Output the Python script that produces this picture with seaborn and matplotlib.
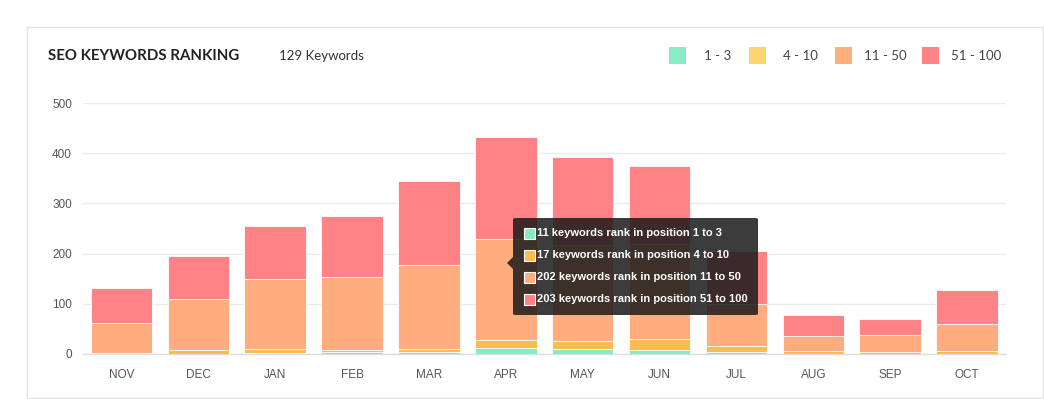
import matplotlib
matplotlib.use("Agg")
import matplotlib.pyplot as plt
from matplotlib.patches import Rectangle, FancyBboxPatch, Polygon
import seaborn as sns
import pandas as pd
import numpy as np

months = ["NOV", "DEC", "JAN", "FEB", "MAR", "APR", "MAY", "JUN", "JUL", "AUG", "SEP", "OCT"]
rank_1_3 = [0, 0, 2, 4, 4, 11, 10, 8, 4, 0, 0, 0]
rank_4_10 = [2, 8, 8, 3, 5, 17, 16, 21, 11, 5, 3, 5]
rank_11_50 = [60, 102, 139, 146, 168, 202, 191, 190, 84, 31, 34, 55]
rank_51_100 = [69, 85, 106, 122, 168, 203, 175, 156, 106, 42, 32, 68]

groups = ["1 - 3", "4 - 10", "11 - 50", "51 - 100"]
ranges = [(1, 3), (4, 10), (11, 50), (51, 100)]
bar_colors = ["#86EBC3", "#F8BC52", "#FFAD7E", "#FF8286"]
legend_colors = ["#88EDC5", "#FDD374", "#FFAE7E", "#FF8488"]
total_keywords = 129
tooltip_month = "APR"

W, H = 1044, 399


def fx(x):
    return x / W


def fy(y):
    return 1 - y / H


df = pd.DataFrame({"month": months, "g1": rank_1_3, "g2": rank_4_10,
                   "g3": rank_11_50, "g4": rank_51_100})
cum = df[["g1", "g2", "g3", "g4"]].cumsum(axis=1)

sns.set_theme(style="white")
plt.rcParams["font.family"] = ["Liberation Sans", "DejaVu Sans"]

fig = plt.figure(figsize=(W / 100, H / 100), dpi=100)
fig.patch.set_facecolor("white")
ax = fig.add_axes([fx(83), fy(354), fx(1005.5) - fx(83), fy(103) - fy(354)])

# stacked bars drawn as overlapping cumulative totals
for col, color in zip(["g4", "g3", "g2", "g1"], bar_colors[::-1]):
    sns.barplot(x=df["month"], y=cum[col], color=color, width=0.8,
                edgecolor="#FFFFFF", linewidth=0.6, saturation=1, ax=ax, zorder=3)

ax.set_ylim(0, 500)
ax.set_xlim(-0.5, len(months) - 0.5)
ax.set_yticks([0, 100, 200, 300, 400, 500])
ax.yaxis.grid(True, color="#EAEBEF", linewidth=1, zorder=0)
ax.set_axisbelow(True)
for s in ["top", "right", "left"]:
    ax.spines[s].set_visible(False)
ax.spines["bottom"].set_color("#DDDDDD")
ax.spines["bottom"].set_linewidth(1)
ax.tick_params(axis="y", length=0, pad=8, labelsize=8.5, labelcolor="#555555")
ax.tick_params(axis="x", length=0, pad=11, labelsize=8.5, labelcolor="#555555")
ax.set_xlabel("")
ax.set_ylabel("")

# card border
fig.add_artist(Rectangle((fx(27), fy(398)), fx(1043) - fx(27), fy(27) - fy(398),
                         transform=fig.transFigure, fill=False,
                         edgecolor="#E3E3E3", linewidth=1))

# header
fig.text(fx(48), fy(56), "SEO KEYWORDS RANKING", fontsize=10.8, fontweight="bold",
         color="#222222", va="center", family=["Lato", "DejaVu Sans"])
fig.text(fx(279), fy(56), f"{total_keywords} Keywords", fontsize=9.5,
         color="#333333", va="center", family=["Lato", "DejaVu Sans"])

# legend
sq_x = [669, 749, 835, 922]
lab_x = [704, 783, 864, 951]
for sx, lx, c, g in zip(sq_x, lab_x, legend_colors, groups):
    fig.add_artist(Rectangle((fx(sx), fy(64)), fx(17), 17 / H,
                             transform=fig.transFigure, facecolor=c, edgecolor="none"))
    fig.text(fx(lx), fy(55.5), g, fontsize=9.5, color="#444444", va="center",
             family=["Lato", "DejaVu Sans"])

# tooltip
i = months.index(tooltip_month)
vals = [rank_1_3[i], rank_4_10[i], rank_11_50[i], rank_51_100[i]]
tip = FancyBboxPatch((fx(513), fy(315)), fx(758) - fx(513), fy(218) - fy(315),
                     boxstyle="round,pad=0,rounding_size=0.003",
                     transform=fig.transFigure, facecolor="#1A1A1A", alpha=0.85,
                     edgecolor="none", zorder=10)
fig.add_artist(tip)
fig.add_artist(Polygon([(fx(513), fy(257)), (fx(507), fy(263)), (fx(513), fy(269))],
                       closed=True, transform=fig.transFigure, facecolor="#1A1A1A",
                       alpha=0.85, edgecolor="none", zorder=10))
row_y = [233, 255, 277, 299]
for ry, v, (lo, hi), c in zip(row_y, vals, ranges, bar_colors):
    fig.add_artist(Rectangle((fx(524), fy(ry + 5.5)), fx(11), 11 / H,
                             transform=fig.transFigure, facecolor=c,
                             edgecolor="white", linewidth=0.8, zorder=11))
    fig.text(fx(537), fy(ry), f"{v} keywords rank in position {lo} to {hi}",
             fontsize=8, fontweight="bold", color="white", va="center", zorder=12)

fig.savefig("out.png", dpi=100, facecolor="white")
